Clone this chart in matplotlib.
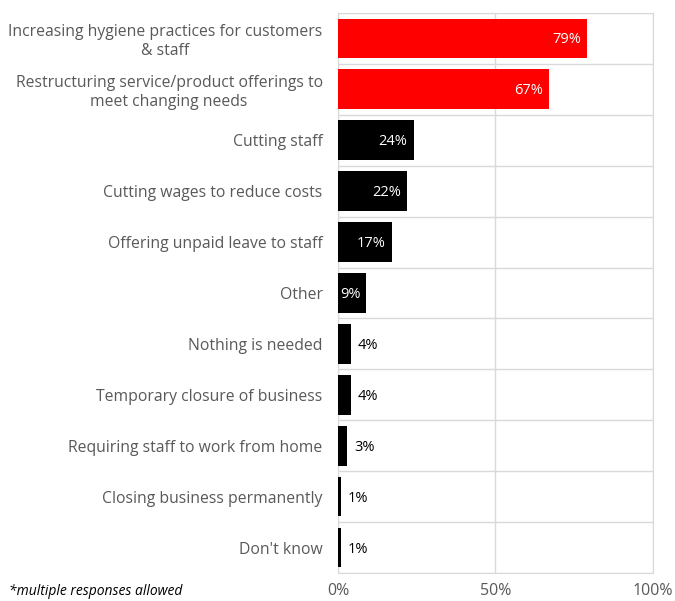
import matplotlib.pyplot as plt
import numpy as np

# Survey responses: actions taken by businesses
categories = [
    "Increasing hygiene practices for customers\n& staff",
    "Restructuring service/product offerings to\nmeet changing needs",
    "Cutting staff",
    "Cutting wages to reduce costs",
    "Offering unpaid leave to staff",
    "Other",
    "Nothing is needed",
    "Temporary closure of business",
    "Requiring staff to work from home",
    "Closing business permanently",
    "Don't know",
]
values = [79, 67, 24, 22, 17, 9, 4, 4, 3, 1, 1]
highlight = [True, True, False, False, False, False, False, False, False, False, False]
label_inside = [True, True, True, True, True, True, False, False, False, False, False]

plt.rcParams['font.family'] = ['Open Sans', 'DejaVu Sans']

fig = plt.figure(figsize=(6.75, 6.01), dpi=100)
ax = fig.add_axes([0.5007, 0.0466, 0.4667, 0.9318])

y = np.arange(len(categories))
colors = ["#FF0000" if h else "#000000" for h in highlight]
ax.barh(y, values, height=0.78, color=colors, zorder=3)

# value labels: white inside the longer bars, black beside the short ones
for yi, v, inside in zip(y, values, label_inside):
    if inside:
        ax.text(v - 1.9, yi + 0.03, f"{v}%", ha="right", va="center", color="white", fontsize=10.5, zorder=4)
    else:
        ax.text(v + 2.2, yi + 0.03, f"{v}%", ha="left", va="center", color="black", fontsize=10.5, zorder=4)

ax.set_xlim(0, 100)
ax.set_ylim(len(categories) - 0.5, -0.5)
ax.set_xticks([0, 50, 100])
ax.set_xticklabels(["0%", "50%", "100%"])
ax.set_yticks(y)
ax.set_yticklabels(categories, ha="right", multialignment="center", linespacing=1.2)
ax.set_yticks(np.arange(-0.5, len(categories), 1), minor=True)

ax.tick_params(axis="y", which="both", length=0, labelsize=11.3, labelcolor="#595959", pad=11)
ax.tick_params(axis="x", length=0, labelsize=11.5, labelcolor="#595959", pad=7)

ax.grid(axis="x", color="#D9D9D9", linewidth=1, zorder=0)
ax.grid(axis="y", which="minor", color="#D9D9D9", linewidth=1, zorder=0)
for s in ax.spines.values():
    s.set_color("#D9D9D9")

fig.text(0.014, 0.004, "*multiple responses allowed", fontsize=10, style="italic", color="black", va="bottom")

fig.savefig("out.png", dpi=100)
